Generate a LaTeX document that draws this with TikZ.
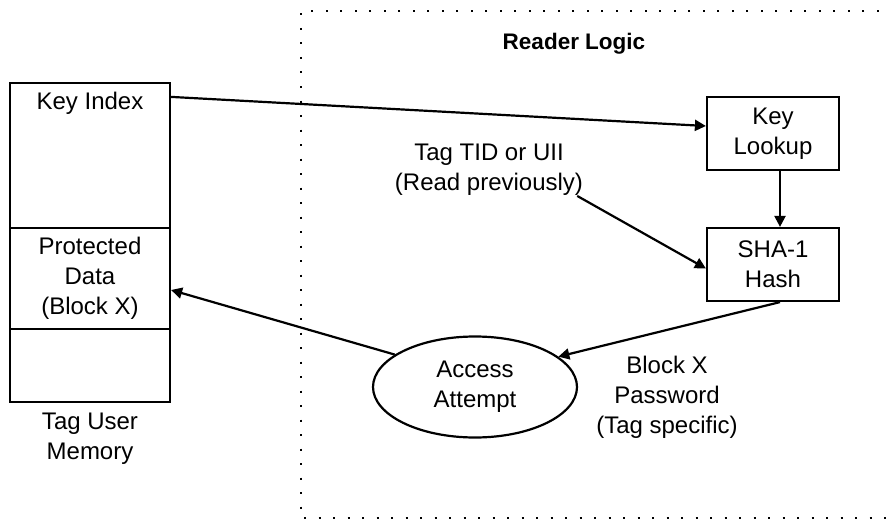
\documentclass[tikz,border=0pt]{standalone}
\usepackage{fontspec}
\setmainfont{Liberation Sans}
\usetikzlibrary{arrows.meta,shapes.geometric}
\tikzset{
  lw/.style={line width=2.2pt},
  txt/.style={font=\fontsize{24}{30}\selectfont, align=center, inner sep=0pt},
  memcell/.style={lw, draw, rectangle, minimum width=160pt, inner sep=0pt, txt},
  procbox/.style={lw, draw, rectangle, minimum width=132pt, minimum height=73pt, txt},
  arr/.style={lw, -{Triangle[length=11pt,width=11pt]}},
  region/.style={line width=2.2pt, dash pattern=on 2pt off 12.5pt}
}
\begin{document}
\begin{tikzpicture}[x=1pt,y=-1pt]
\useasboundingbox (0,0) rectangle (891,519);
% dotted region
\coordinate (rtr) at (893,11);
\coordinate (rtl) at (301,11);
\coordinate (rbl) at (301,518);
\coordinate (rbr) at (893,518);
\draw[region] (rtr) -- (rtl) -- (rbl) -- (rbr);
\node[txt, font=\fontsize{22.5}{28}\selectfont\bfseries] (title) at (574,44) {Reader Logic};
% memory
\node[memcell, minimum height=145pt] (keyidx) at (90,155.5) {};
\node[txt] (keytxt) at (90,103) {Key Index};
\node[memcell, minimum height=101pt] (prot) at (90,278.5) {Protected\\Data\\(Block X)};
\node[memcell, minimum height=73pt] (blank) at (90,365.5) {};
\node[txt] (memlbl) at (90,439) {Tag User\\Memory};
% logic
\node[procbox] (lookup) at (773,133.5) {Key\\Lookup};
\node[procbox] (sha) at (773,264.5) {SHA-1\\Hash};
\node[txt] (tid) at (489,170) {Tag TID or UII\\(Read previously)};
\node[lw, draw, ellipse, minimum width=204pt, minimum height=101pt, txt] (acc) at (475,387) {Access\\Attempt};
\node[txt] (pwd) at (667,397) {Block X\\Password\\(Tag specific)};
% connectors
\draw[arr] ([yshift=-15pt]keyidx.north east) -- ([yshift=7.5pt]lookup.west);
\draw[arr] ([xshift=7pt]lookup.south) -- ([xshift=7pt]sha.north);
\draw[arr] ([xshift=-6pt]tid.south east) -- ([yshift=-4pt]sha.west);
\draw[arr] ([xshift=7pt]sha.south) -- (acc.20);
\draw[arr] (acc.158) -- ([yshift=-11.5pt]prot.east);
\end{tikzpicture}
\end{document}
